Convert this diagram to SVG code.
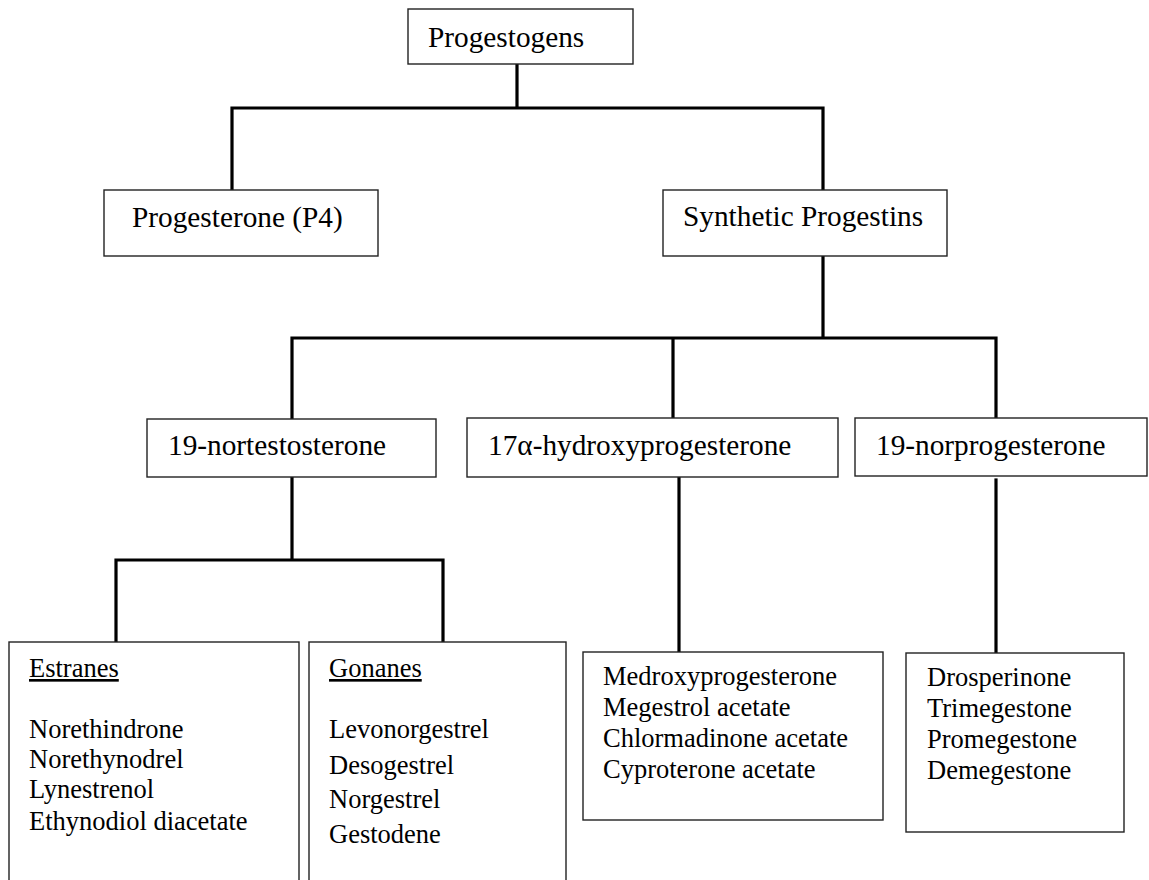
<svg xmlns="http://www.w3.org/2000/svg" width="1149" height="880" viewBox="0 0 1149 880">
<style>
.box{fill:#fff;stroke:#222;stroke-width:1.4}
.h{font-family:"Liberation Serif","Times New Roman",serif;font-size:29.3px;fill:#000}
.t{font-family:"Liberation Serif","Times New Roman",serif;font-size:26.5px;fill:#000}
.u{text-decoration:underline}
.c{fill:none;stroke:#000;stroke-width:3.2;stroke-linecap:square;stroke-linejoin:miter}
</style>
<rect width="1149" height="880" fill="#fff"/>
<g id="connectors">
<path class="c" d="M517 64V108M232 190V108H823V190"/>
<path class="c" d="M823 256V338M292 419V338H996V418M673 338V418"/>
<path class="c" d="M292 477V560M116 642V560H443V642"/>
<path class="c" d="M679 478V652"/>
<path class="c" d="M996 480V653"/>
</g>
<g id="progestogens">
<rect class="box" x="408" y="9" width="225" height="55"/>
<text class="h" x="428" y="47">Progestogens</text>
</g>
<g id="progesterone">
<rect class="box" x="104" y="190" width="274" height="66"/>
<text class="h" x="132" y="227">Progesterone (P4)</text>
</g>
<g id="synthetic">
<rect class="box" x="663" y="190" width="284" height="66"/>
<text class="h" x="683" y="226">Synthetic Progestins</text>
</g>
<g id="nortestosterone">
<rect class="box" x="147" y="419" width="289" height="58"/>
<text class="h" x="168" y="455">19-nortestosterone</text>
</g>
<g id="hydroxyprogesterone">
<rect class="box" x="467" y="418" width="371" height="59"/>
<text class="h" x="488" y="455">17α-hydroxyprogesterone</text>
</g>
<g id="norprogesterone">
<rect class="box" x="855" y="418" width="292" height="58"/>
<text class="h" x="876" y="455">19-norprogesterone</text>
</g>
<g id="estranes">
<rect class="box" x="9" y="642" width="290" height="260"/>
<text class="t u" x="29" y="677">Estranes</text>
<text class="t" x="29" y="738">Norethindrone</text>
<text class="t" x="29" y="768">Norethynodrel</text>
<text class="t" x="29" y="798">Lynestrenol</text>
<text class="t" x="29" y="830">Ethynodiol diacetate</text>
</g>
<g id="gonanes">
<rect class="box" x="309" y="642" width="257" height="260"/>
<text class="t u" x="329" y="677">Gonanes</text>
<text class="t" x="329" y="738">Levonorgestrel</text>
<text class="t" x="329" y="774">Desogestrel</text>
<text class="t" x="329" y="808">Norgestrel</text>
<text class="t" x="329" y="843">Gestodene</text>
</g>
<g id="medroxy">
<rect class="box" x="583" y="652" width="300" height="168"/>
<text class="t" x="603" y="685">Medroxyprogesterone</text>
<text class="t" x="603" y="716">Megestrol acetate</text>
<text class="t" x="603" y="747">Chlormadinone acetate</text>
<text class="t" x="603" y="778">Cyproterone acetate</text>
</g>
<g id="drosperinone">
<rect class="box" x="906" y="653" width="218" height="179"/>
<text class="t" x="927" y="686">Drosperinone</text>
<text class="t" x="927" y="717">Trimegestone</text>
<text class="t" x="927" y="748">Promegestone</text>
<text class="t" x="927" y="779">Demegestone</text>
</g>
</svg>
